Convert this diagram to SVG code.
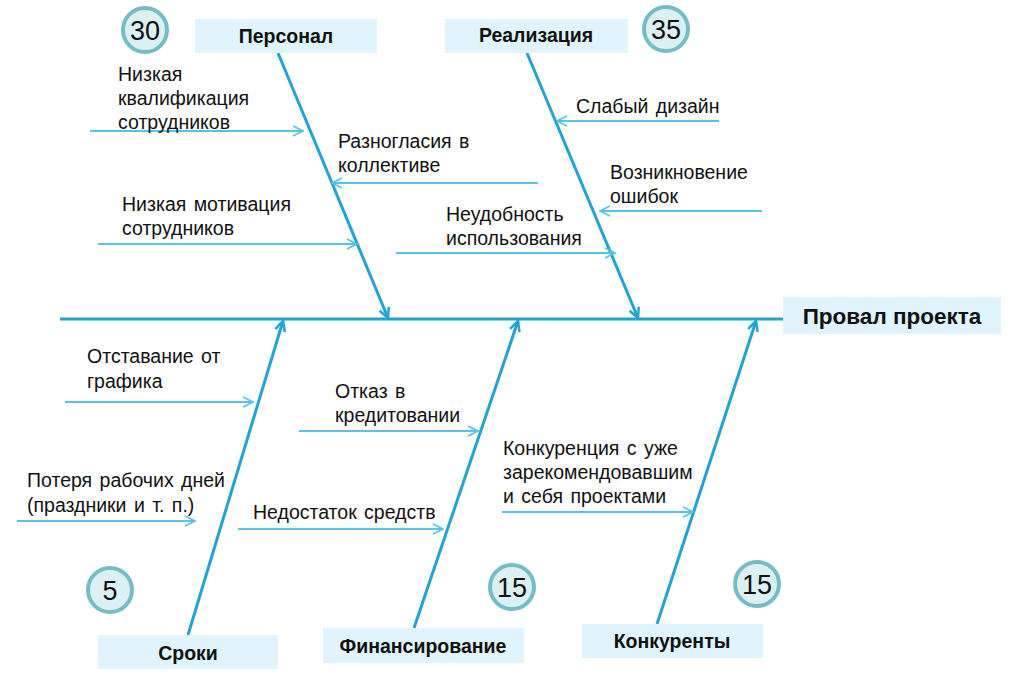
<svg xmlns="http://www.w3.org/2000/svg" width="1012" height="687" viewBox="0 0 1012 687">
<style>
.box{fill:#DFF4FC;}
.ttl{font-family:"Liberation Sans",Arial,sans-serif;font-weight:bold;font-size:19.5px;fill:#111;text-anchor:middle;}
.lbl{font-family:"Liberation Sans",Arial,sans-serif;font-size:19.5px;fill:#111;word-spacing:2px;}
.num{font-family:"Liberation Sans",Arial,sans-serif;font-size:27px;fill:#111;text-anchor:middle;}
.circ{fill:#DCEFF3;stroke:#74BDC7;stroke-width:4;}
.spine{stroke:#1EA3DA;stroke-width:3;fill:none;}
.sub{stroke:#55C3EA;stroke-width:2;fill:none;}
</style>
<defs>
<marker id="big" viewBox="0 0 12 12" refX="11" refY="6" markerWidth="12" markerHeight="12" markerUnits="userSpaceOnUse" orient="auto">
<path d="M1,1 L11,6 L1,11" fill="none" stroke="#1EA3DA" stroke-width="2.5"/>
</marker>
<marker id="small" viewBox="0 0 12 12" refX="11" refY="6" markerWidth="12" markerHeight="12" markerUnits="userSpaceOnUse" orient="auto">
<path d="M1,1 L11,6 L1,11" fill="none" stroke="#55C3EA" stroke-width="1.6"/>
</marker>
</defs>
<rect width="1012" height="687" fill="#fff"/>
<g id="connectors">
<line class="spine" x1="60" y1="319" x2="784" y2="319"/>
<line class="spine" x1="278" y1="53" x2="388" y2="318" marker-end="url(#big)"/>
<line class="spine" x1="527" y1="53" x2="638" y2="318" marker-end="url(#big)"/>
<line class="spine" x1="188" y1="635" x2="283" y2="321" marker-end="url(#big)"/>
<line class="spine" x1="414" y1="628" x2="518" y2="321" marker-end="url(#big)"/>
<line class="spine" x1="657" y1="624" x2="756" y2="321" marker-end="url(#big)"/>
<line class="sub" x1="90" y1="131" x2="303" y2="131" marker-end="url(#small)"/>
<line class="sub" x1="538" y1="183" x2="332" y2="183" marker-end="url(#small)"/>
<line class="sub" x1="98" y1="244" x2="357" y2="244" marker-end="url(#small)"/>
<line class="sub" x1="396" y1="253" x2="615" y2="253" marker-end="url(#small)"/>
<line class="sub" x1="719" y1="121" x2="557" y2="121" marker-end="url(#small)"/>
<line class="sub" x1="762" y1="211" x2="600" y2="211" marker-end="url(#small)"/>
<line class="sub" x1="65" y1="402" x2="253" y2="402" marker-end="url(#small)"/>
<line class="sub" x1="299" y1="431" x2="478" y2="431" marker-end="url(#small)"/>
<line class="sub" x1="17" y1="521" x2="195" y2="521" marker-end="url(#small)"/>
<line class="sub" x1="238" y1="529" x2="443" y2="529" marker-end="url(#small)"/>
<line class="sub" x1="502" y1="512" x2="693" y2="512" marker-end="url(#small)"/>
</g>
<g id="effect">
<rect class="box" x="783" y="297" width="218" height="37"/>
<text class="ttl" x="892" y="324" style="font-size:22.5px">Провал проекта</text>
</g>
<g id="personal">
<rect class="box" x="195" y="19" width="182" height="34"/>
<text class="ttl" x="286" y="43">Персонал</text>
</g>
<g id="realization">
<rect class="box" x="445" y="19" width="183" height="34"/>
<text class="ttl" x="536" y="42">Реализация</text>
</g>
<g id="sroki">
<rect class="box" x="98" y="635" width="180" height="34"/>
<text class="ttl" x="188" y="660">Сроки</text>
</g>
<g id="finance">
<rect class="box" x="323" y="628" width="201" height="35"/>
<text class="ttl" x="423" y="653">Финансирование</text>
</g>
<g id="competitors">
<rect class="box" x="582" y="624" width="181" height="34"/>
<text class="ttl" x="672" y="648">Конкуренты</text>
</g>
<g id="w30"><circle class="circ" cx="145" cy="30" r="22"/><text class="num" x="145" y="40">30</text></g>
<g id="w35"><circle class="circ" cx="666" cy="29" r="22"/><text class="num" x="666" y="39">35</text></g>
<g id="w5"><circle class="circ" cx="110" cy="590" r="22"/><text class="num" x="110" y="600">5</text></g>
<g id="w15a"><circle class="circ" cx="512" cy="587" r="22"/><text class="num" x="512" y="597">15</text></g>
<g id="w15b"><circle class="circ" cx="757" cy="584" r="22"/><text class="num" x="757" y="594">15</text></g>
<g id="c1"><text class="lbl"><tspan x="118" y="81">Низкая</tspan><tspan x="118" y="105">квалификация</tspan><tspan x="118" y="129">сотрудников</tspan></text></g>
<g id="c2"><text class="lbl"><tspan x="338" y="148">Разногласия в</tspan><tspan x="338" y="172">коллективе</tspan></text></g>
<g id="c3"><text class="lbl"><tspan x="122" y="211">Низкая мотивация</tspan><tspan x="122" y="235">сотрудников</tspan></text></g>
<g id="c4"><text class="lbl"><tspan x="446" y="221">Неудобность</tspan><tspan x="446" y="245">использования</tspan></text></g>
<g id="c5"><text class="lbl"><tspan x="576" y="113">Слабый дизайн</tspan></text></g>
<g id="c6"><text class="lbl"><tspan x="610" y="179">Возникновение</tspan><tspan x="610" y="203">ошибок</tspan></text></g>
<g id="c7"><text class="lbl"><tspan x="87" y="363">Отставание от</tspan><tspan x="87" y="388">графика</tspan></text></g>
<g id="c8"><text class="lbl"><tspan x="335" y="398">Отказ в</tspan><tspan x="335" y="422">кредитовании</tspan></text></g>
<g id="c9"><text class="lbl"><tspan x="27" y="487">Потеря рабочих дней</tspan><tspan x="27" y="512">(праздники и т. п.)</tspan></text></g>
<g id="c10"><text class="lbl"><tspan x="253" y="519">Недостаток средств</tspan></text></g>
<g id="c11"><text class="lbl"><tspan x="503" y="455">Конкуренция с уже</tspan><tspan x="503" y="479">зарекомендовавшим</tspan><tspan x="503" y="503">и себя проектами</tspan></text></g>
</svg>
